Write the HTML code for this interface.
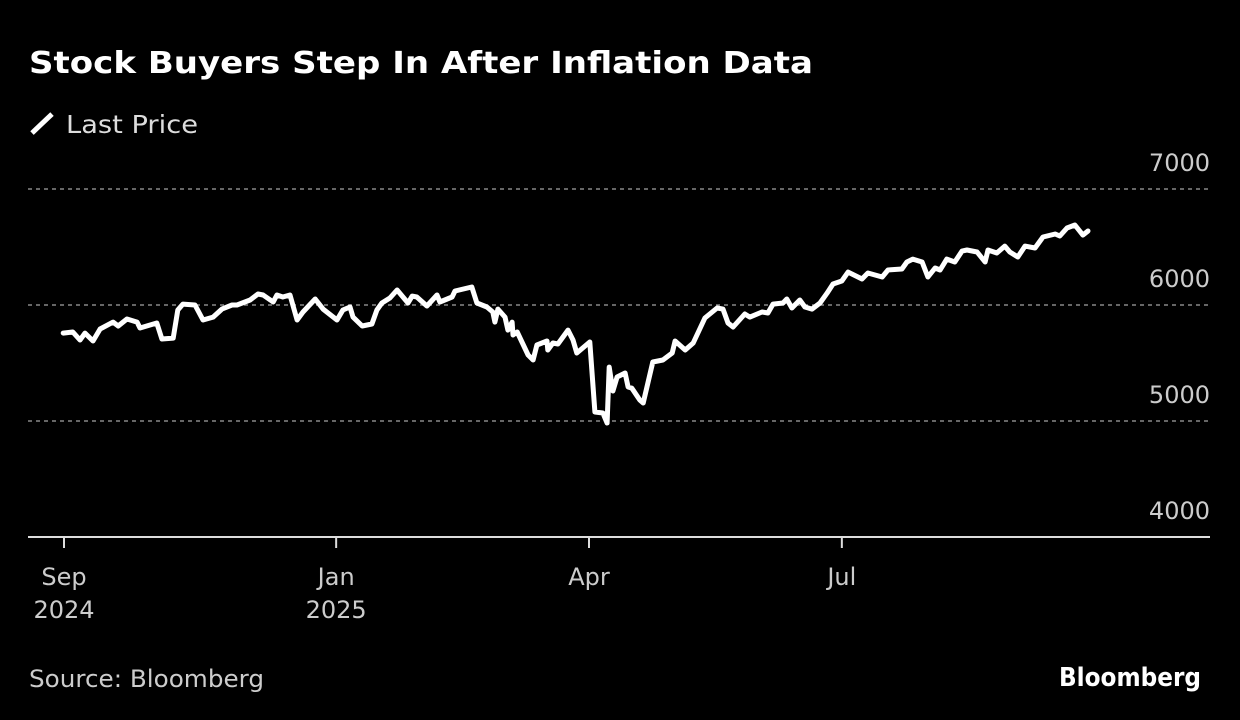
<!DOCTYPE html>
<html><head><meta charset="utf-8"><style>
html,body{margin:0;padding:0;background:#000;}
svg{display:block;}
text{font-family:"DejaVu Sans","Liberation Sans",sans-serif;}
</style></head><body>
<svg id="chart" width="1240" height="720" viewBox="0 0 1240 720" xmlns="http://www.w3.org/2000/svg">
<rect width="1240" height="720" fill="#000"/>
<text x="29" y="73" fill="#fff" font-size="30" font-weight="bold" textLength="784" lengthAdjust="spacingAndGlyphs">Stock Buyers Step In After Inflation Data</text>
<g>
<line x1="32" y1="133" x2="52" y2="114" stroke="#fff" stroke-width="5"/>
<text x="66" y="133" fill="#ddd" font-size="25" textLength="132" lengthAdjust="spacingAndGlyphs">Last Price</text>
</g>
<g id="grid"></g>
<g id="yticks"></g>
<g id="xticks"></g>
<path id="line" fill="none" stroke="#fff" stroke-width="5" stroke-linejoin="round" stroke-linecap="round"/>
<line x1="28" y1="537" x2="1210" y2="537" stroke="#ddd" stroke-width="2"/>
<text x="29" y="687" fill="#ccc" font-size="24" textLength="235" lengthAdjust="spacingAndGlyphs">Source: Bloomberg</text>
<text x="1201" y="686" fill="#fff" font-size="26" font-weight="bold" text-anchor="end" textLength="142" lengthAdjust="spacingAndGlyphs">Bloomberg</text>
</svg>
<script>
const days = [-0.2,2.1,3.8,5.0,6.9,8.6,11.7,12.9,15.0,17.4,18.1,22.1,23.3,26.0,27.1,28.3,31.2,33.1,35.5,37.6,40.0,41.2,44.3,46.2,47.4,49.8,50.7,52.1,53.8,55.5,56.9,59.8,61.7,65.0,66.4,68.1,68.8,71.0,73.3,74.5,75.7,77.6,79.3,81.9,82.9,84.0,86.4,88.8,89.5,92.4,93.1,97.1,98.3,100.7,102.1,102.6,103.3,105.0,105.7,106.7,106.9,107.9,110.5,111.7,112.6,115.0,115.2,116.4,117.6,120.0,121.2,122.1,125.2,126.4,128.3,129.3,129.8,130.7,131.7,133.6,134.3,135.2,137.1,137.9,140.2,142.6,144.8,145.5,147.9,149.8,152.6,155.5,156.9,158.1,159.3,162.1,163.3,166.2,167.6,168.8,171.2,172.1,173.3,175.2,176.4,178.1,180.0,181.7,183.1,185.2,186.7,190.0,191.4,194.8,196.2,199.5,200.7,202.1,204.3,205.7,207.4,208.6,210.2,212.1,213.8,215.0,217.4,219.3,220.0,222.1,224.0,225.2,227.1,228.8,231.2,233.1,236.0,237.1,238.8,240.7,242.6,243.8];
const prices = [5758,5767,5698,5758,5690,5793,5853,5819,5879,5853,5802,5845,5707,5715,5957,6008,6000,5871,5896,5965,6000,6000,6043,6095,6086,6026,6086,6069,6086,5871,5940,6052,5965,5871,5957,5983,5896,5819,5836,5957,6017,6060,6129,6017,6077,6069,5991,6086,6026,6069,6121,6155,6017,5983,5940,5853,5965,5896,5784,5853,5741,5767,5569,5526,5655,5690,5612,5672,5664,5784,5698,5586,5681,5078,5069,4983,5465,5259,5379,5414,5293,5284,5181,5155,5509,5526,5586,5690,5612,5672,5888,5974,5965,5845,5810,5922,5896,5940,5931,6008,6017,6052,5974,6043,5983,5965,6017,6103,6181,6207,6284,6224,6276,6241,6302,6310,6371,6396,6371,6241,6319,6302,6396,6371,6465,6474,6457,6371,6474,6448,6508,6457,6414,6508,6491,6586,6612,6595,6664,6690,6603,6638];
const yTickValues = [4000,5000,6000,7000];
const xTickDays = [0,64.8,125,185.2];
const xTickLabels = [["Sep","2024"],["Jan","2025"],["Apr",""],["Jul",""]];

const NS="http://www.w3.org/2000/svg";
const X = d => 64 + d*4.2;
const Y = v => 537 - (v-4000)*0.116;
function mk(tag, attrs, parent){const e=document.createElementNS(NS,tag);for(const k in attrs)e.setAttribute(k,attrs[k]);parent.appendChild(e);return e;}
const grid=document.getElementById('grid'), yt=document.getElementById('yticks'), xt=document.getElementById('xticks');
yTickValues.forEach(v=>{
  if(v>4000){
    const g=mk('line',{x1:28,x2:1210,y1:Y(v),y2:Y(v),stroke:'#888','stroke-width':1.5,'stroke-dasharray':'4 4'},grid);
    
    
  }
  const t=mk('text',{x:1210,y:Y(v)-18,fill:'#ccc','font-size':24,'text-anchor':'end'},yt);
  t.textContent=v;
  
  
});
xTickDays.forEach((d,i)=>{
  const tk=mk('line',{x1:X(d),x2:X(d),y1:537,y2:548,stroke:'#ddd','stroke-width':2},xt);
  
  
  xTickLabels[i].forEach((s,j)=>{
    if(!s)return;
    const t=mk('text',{x:X(d),y:585+j*33,fill:'#ccc','font-size':24,'text-anchor':'middle'},xt);
    t.textContent=s;
    
    
  });
});
document.getElementById('line').setAttribute('d', days.map((d,i)=>(i?'L':'M')+X(d).toFixed(1)+','+Y(prices[i]).toFixed(1)).join(''));
</script>
</body></html>
